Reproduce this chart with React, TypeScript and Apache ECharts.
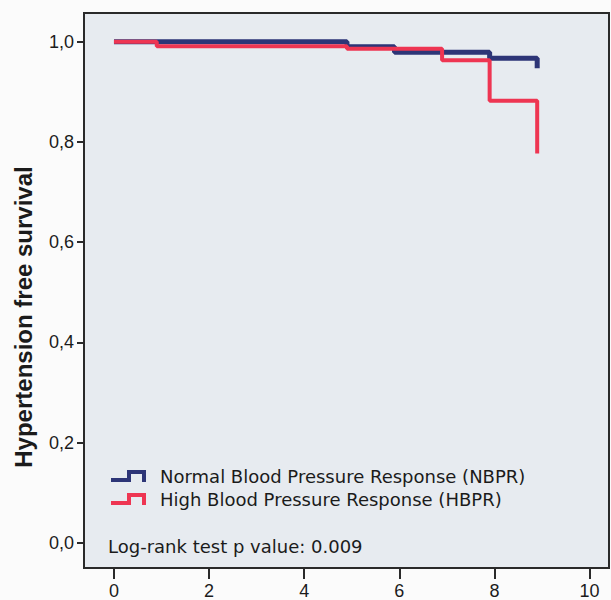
import React, { useEffect, useRef } from "react";
import * as echarts from "echarts";

// Kaplan-Meier step data (time in years, survival proportion)
const nbprTimes = [0, 4.9, 5.9, 7.9, 8.9];
const nbprSurv = [1.0, 0.99, 0.979, 0.967, 0.947];
const hbprTimes = [0, 0.9, 4.9, 6.9, 7.9, 8.9];
const hbprSurv = [1.0, 0.991, 0.986, 0.963, 0.882, 0.777];

const seriesNames = [
  "Normal Blood Pressure Response (NBPR)",
  "High Blood Pressure Response (HBPR)",
];
const xTicks = [0, 2, 4, 6, 8, 10];
const yTicks = [0, 0.2, 0.4, 0.6, 0.8, 1.0];
const yTitle = "Hypertension free survival";
const noteText = "Log-rank test p value: 0.009";

const NAVY = "#2d3577";
const RED = "#ee3552";
const INK = "#1b1b1b";

const stepIcon =
  "path://M0,8 L16,8 L16,0 L35,0 L35,12 L31,12 L31,4 L20,4 L20,12 L0,12 Z";

export default function App() {
  const ref = useRef<HTMLDivElement>(null);
  useEffect(() => {
    if (!ref.current) return;
    const chart = echarts.init(ref.current, null, { renderer: "svg" });
    const pts = (t: number[], s: number[]) => t.map((x, i) => [x, s[i]]);
    chart.setOption({
      animation: false,
      backgroundColor: "#fbfbfb",
      grid: {
        show: true,
        left: 84,
        right: 2,
        top: 13,
        bottom: 32,
        backgroundColor: "#e7ebf0",
        borderColor: "#2a2a2a",
        borderWidth: 2,
      },
      xAxis: {
        type: "value",
        min: -0.63,
        max: 10.41,
        axisLine: { show: true, onZero: false, lineStyle: { color: "#2a2a2a", width: 2 } },
        axisTick: {
          show: true,
          length: 11,
          customValues: xTicks,
          lineStyle: { color: "#2a2a2a", width: 2 },
        },
        axisLabel: {
          customValues: xTicks,
          margin: 14,
          fontSize: 18,
          fontFamily: "Liberation Sans, Arial, sans-serif",
          color: INK,
        },
        splitLine: { show: false },
      },
      yAxis: {
        type: "value",
        min: -0.0505,
        max: 1.0573,
        axisLine: { show: true, onZero: false, lineStyle: { color: "#2a2a2a", width: 2 } },
        axisTick: {
          show: true,
          length: 7,
          customValues: yTicks,
          lineStyle: { color: "#2a2a2a", width: 2 },
        },
        axisLabel: {
          customValues: yTicks,
          margin: 10,
          fontSize: 18,
          fontFamily: "Liberation Sans, Arial, sans-serif",
          color: INK,
          formatter: (v: number) => v.toFixed(1).replace(".", ","),
        },
        splitLine: { show: false },
      },
      legend: {
        orient: "vertical",
        left: 106,
        top: 461,
        itemWidth: 35,
        itemHeight: 12,
        itemGap: 3,
        icon: stepIcon,
        itemStyle: { borderWidth: 0 },
        textStyle: {
          fontSize: 18,
          fontFamily: "DejaVu Sans, sans-serif",
          color: INK,
          lineHeight: 20,
          padding: [0, 0, 0, 9],
        },
        data: seriesNames,
      },
      graphic: [
        {
          type: "text",
          x: 23,
          y: 317,
          rotation: Math.PI / 2,
          style: {
            text: yTitle,
            fontSize: 24,
            fontWeight: "bold",
            fontFamily: "Liberation Sans, Arial, sans-serif",
            fill: INK,
            align: "center",
            verticalAlign: "middle",
          },
        },
        {
          type: "text",
          left: 108,
          top: 537,
          style: {
            text: noteText,
            fontSize: 18,
            fontFamily: "DejaVu Sans, sans-serif",
            fill: INK,
          },
        },
      ],
      series: [
        {
          name: seriesNames[0],
          type: "line",
          step: "end",
          showSymbol: false,
          symbol: "none",
          color: NAVY,
          itemStyle: { color: NAVY },
          lineStyle: { color: NAVY, width: 5 },
          data: pts(nbprTimes, nbprSurv),
          z: 2,
        },
        {
          name: seriesNames[1],
          type: "line",
          step: "end",
          showSymbol: false,
          symbol: "none",
          color: RED,
          itemStyle: { color: RED },
          lineStyle: { color: RED, width: 4 },
          data: pts(hbprTimes, hbprSurv),
          z: 3,
        },
      ],
    });
    return () => chart.dispose();
  }, []);
  return (
    <div
      ref={ref}
      style={{ position: "absolute", left: 0, top: 0, width: 611, height: 600 }}
    />
  );
}
